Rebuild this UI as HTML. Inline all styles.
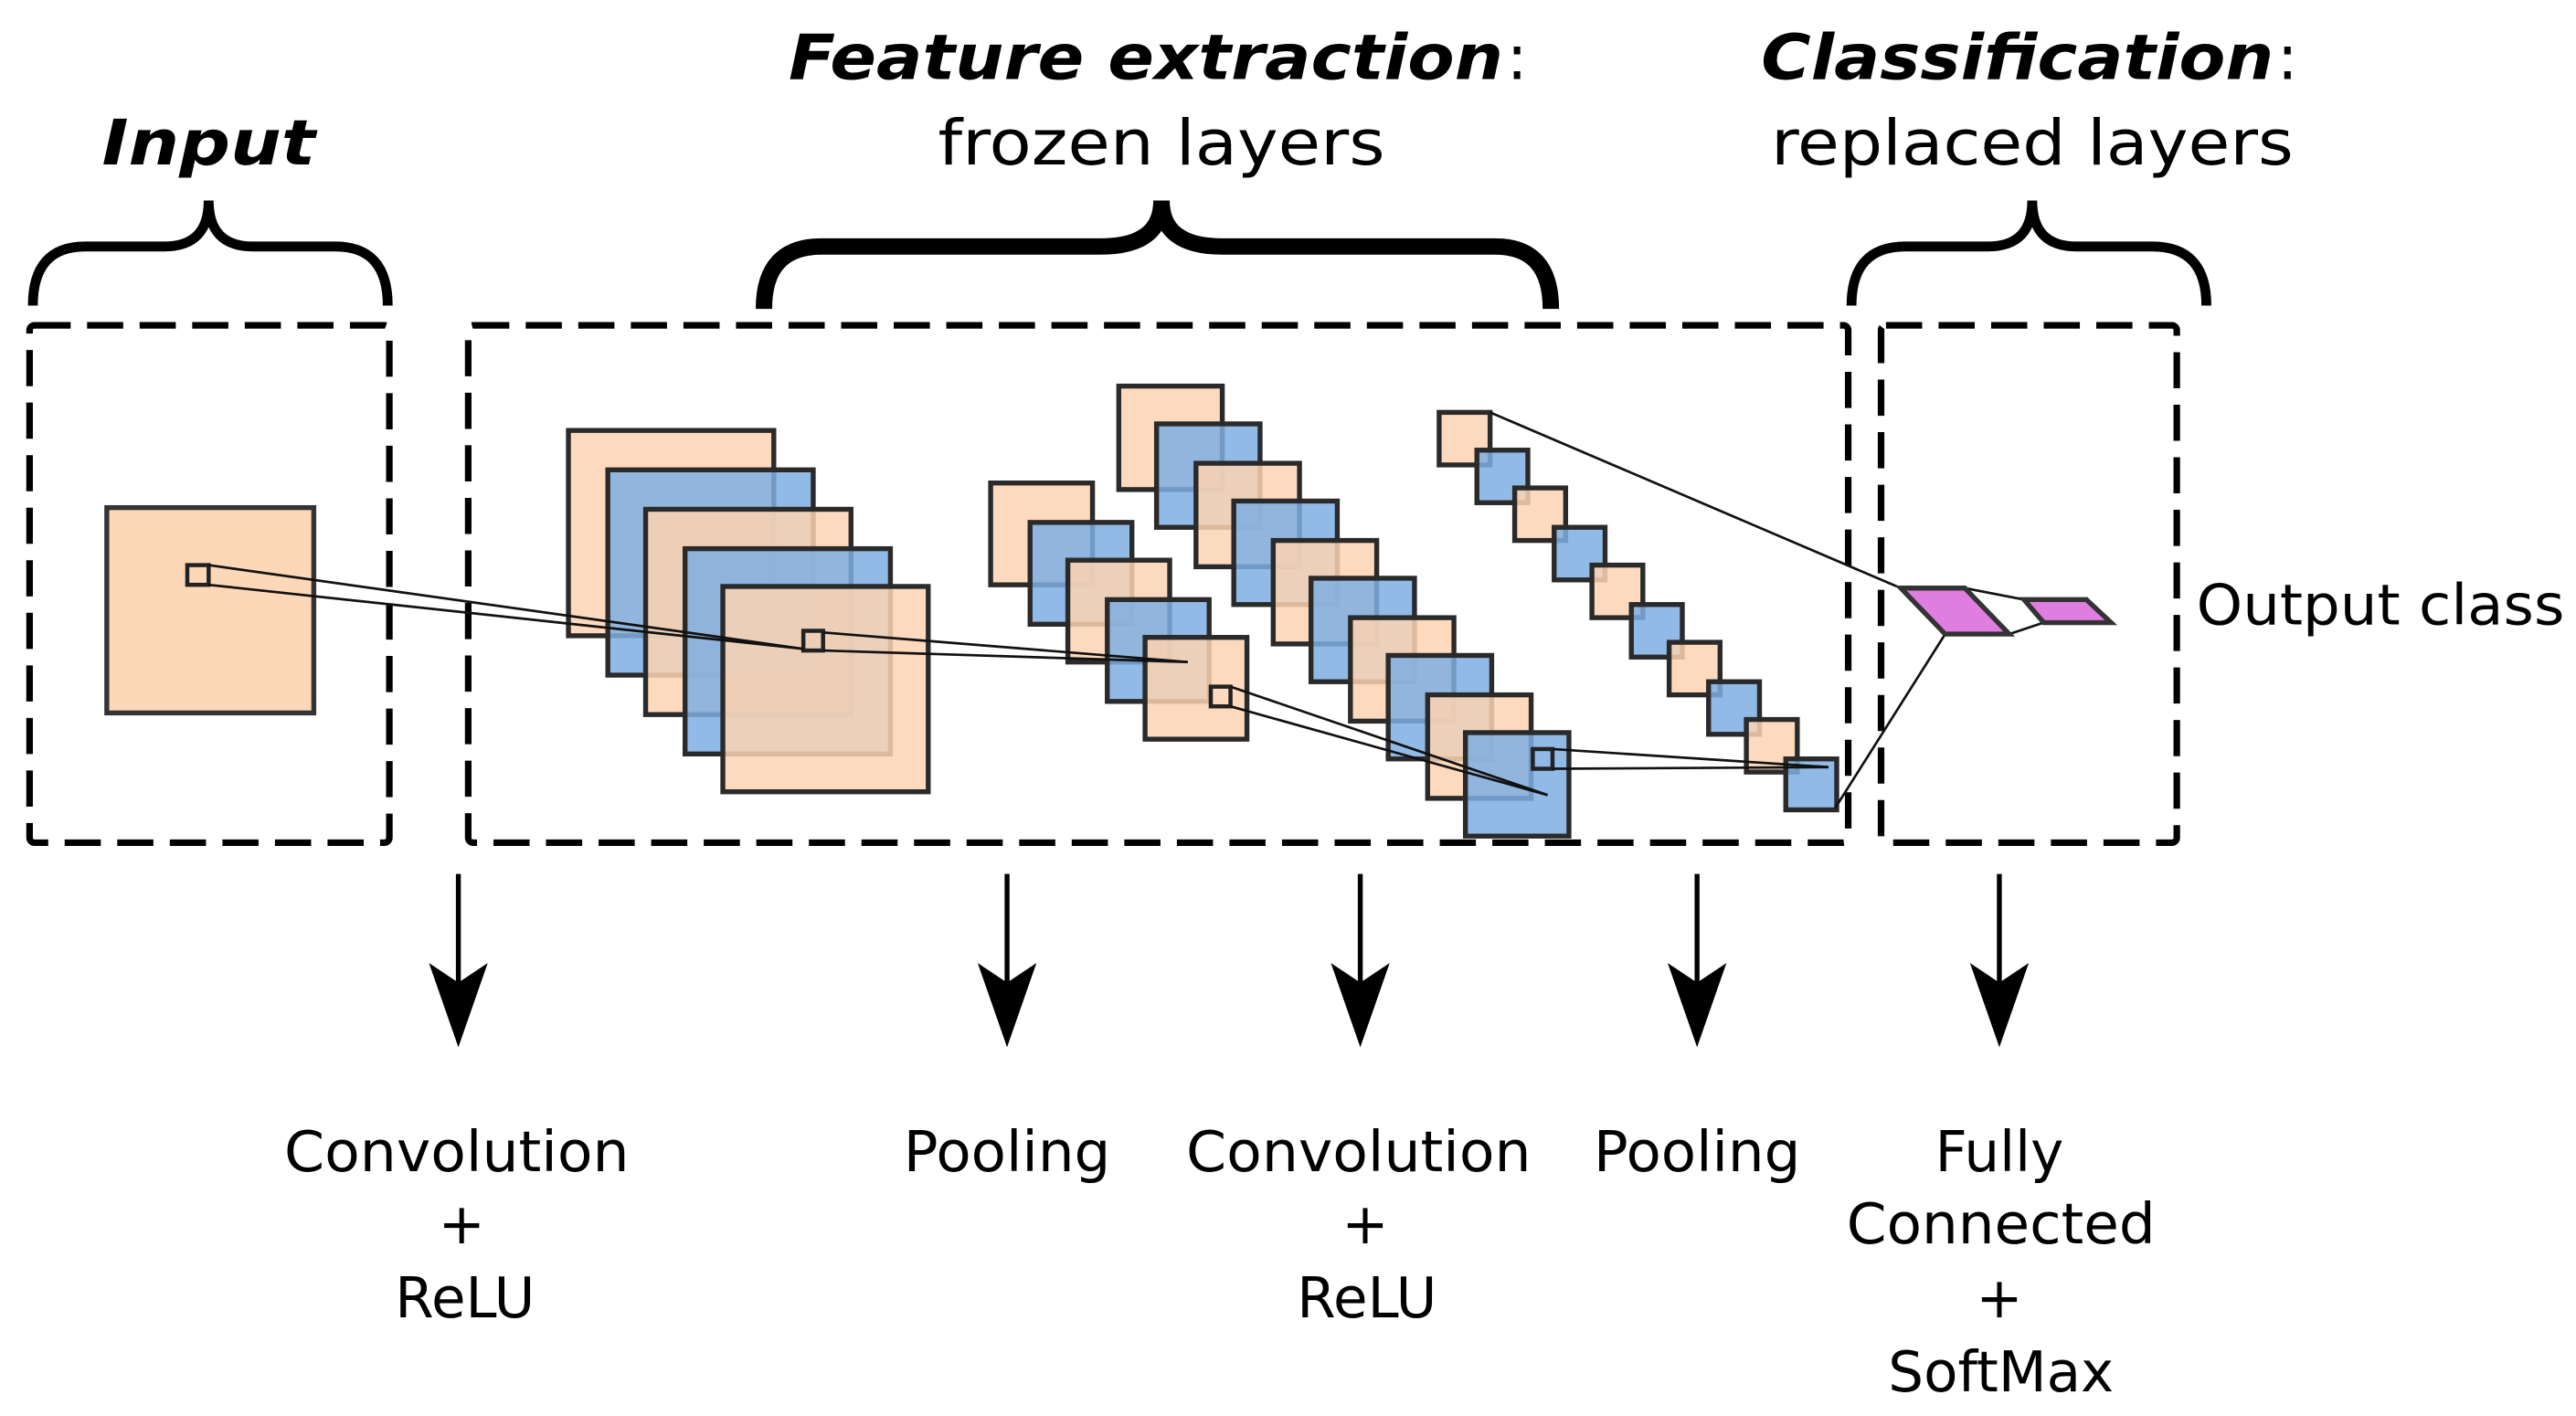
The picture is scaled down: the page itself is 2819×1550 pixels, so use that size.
<!DOCTYPE html>
<html><head><meta charset="utf-8"><style>html,body{margin:0;padding:0;background:#fff}svg{display:block}</style></head>
<body>
<svg width="2819" height="1550" viewBox="0 0 1568 862" xmlns="http://www.w3.org/2000/svg" font-family="DejaVu Sans, Liberation Sans, sans-serif">
<rect width="1568" height="862" fill="#fff"/>
<!-- headers -->
<text x="127" y="100" font-size="38" font-weight="bold" font-style="italic" text-anchor="middle" textLength="130" lengthAdjust="spacingAndGlyphs">Input</text>
<text x="480" y="48" font-size="38" font-weight="bold" font-style="italic" textLength="435" lengthAdjust="spacingAndGlyphs">Feature extraction</text>
<text x="917" y="48" font-size="38">:</text>
<text x="707" y="100" font-size="38" text-anchor="middle" textLength="272" lengthAdjust="spacingAndGlyphs">frozen layers</text>
<text x="1072" y="48" font-size="38" font-weight="bold" font-style="italic" textLength="312" lengthAdjust="spacingAndGlyphs">Classification</text>
<text x="1386" y="48" font-size="38">:</text>
<text x="1237" y="100" font-size="38" text-anchor="middle" textLength="318" lengthAdjust="spacingAndGlyphs">replaced layers</text>
<!-- braces -->
<g fill="none" stroke="#000" stroke-linecap="butt">
<path d="M20,186 Q20,150 52,150 L100,150 Q127,150 127,122 Q127,150 154,150 L204,150 Q236,150 236,186" stroke-width="6"/>
<path d="M465,188 Q465,150 500,150 L670,150 Q707,150 707,122 Q707,150 744,150 L910,150 Q944,150 944,188" stroke-width="10"/>
<path d="M1127,186 Q1127,150 1160,150 L1210,150 Q1237,150 1237,122 Q1237,150 1264,150 L1310,150 Q1343,150 1343,186" stroke-width="6"/>
</g>
<!-- dashed boxes -->
<g fill="none" stroke="#000" stroke-width="4" stroke-dasharray="22 10">
<rect x="18" y="198" width="219" height="315" rx="3"/>
<rect x="285" y="198" width="840" height="315" rx="3"/>
<rect x="1145" y="198" width="180" height="315" rx="3"/>
</g>
<!-- input -->
<rect x="65" y="309" width="126" height="125" fill="#fdd8b8" stroke="#333" stroke-width="3"/>
<g stroke="#2a2a2a" stroke-width="3" fill-opacity="0.85">
<!-- conv1 -->
<rect x="346" y="262" width="125" height="125" fill="#fdd3b2"/>
<rect x="370" y="286" width="125" height="125" fill="#7eaee2"/>
<rect x="393" y="310" width="125" height="125" fill="#fdd3b2"/>
<rect x="417" y="334" width="125" height="125" fill="#7eaee2"/>
<rect x="440" y="357" width="125" height="125" fill="#fdd3b2"/>
<!-- pool1 -->
<rect x="603" y="294" width="62" height="62" fill="#fdd3b2"/>
<rect x="627" y="318" width="62" height="62" fill="#7eaee2"/>
<rect x="650" y="341" width="62" height="62" fill="#fdd3b2"/>
<rect x="674" y="365" width="62" height="62" fill="#7eaee2"/>
<rect x="697" y="388" width="62" height="62" fill="#fdd3b2"/>
<!-- conv2 -->
<rect x="681" y="235" width="63" height="63" fill="#fdd3b2"/>
<rect x="704" y="258" width="63" height="63" fill="#7eaee2"/>
<rect x="728" y="282" width="63" height="63" fill="#fdd3b2"/>
<rect x="751" y="305" width="63" height="63" fill="#7eaee2"/>
<rect x="775" y="329" width="63" height="63" fill="#fdd3b2"/>
<rect x="798" y="352" width="63" height="63" fill="#7eaee2"/>
<rect x="822" y="376" width="63" height="63" fill="#fdd3b2"/>
<rect x="845" y="399" width="63" height="63" fill="#7eaee2"/>
<rect x="869" y="423" width="63" height="63" fill="#fdd3b2"/>
<rect x="892" y="446" width="63" height="63" fill="#7eaee2"/>
<!-- pool2 -->
<rect x="876" y="251" width="31" height="32" fill="#fdd3b2"/>
<rect x="899" y="274" width="31" height="32" fill="#7eaee2"/>
<rect x="922" y="297" width="31" height="32" fill="#fdd3b2"/>
<rect x="946" y="321" width="31" height="32" fill="#7eaee2"/>
<rect x="969" y="344" width="31" height="32" fill="#fdd3b2"/>
<rect x="993" y="368" width="31" height="32" fill="#7eaee2"/>
<rect x="1016" y="391" width="31" height="32" fill="#fdd3b2"/>
<rect x="1040" y="415" width="31" height="32" fill="#7eaee2"/>
<rect x="1063" y="438" width="31" height="32" fill="#fdd3b2"/>
<rect x="1087" y="462" width="31" height="31" fill="#7eaee2"/>
</g>
<!-- small squares -->
<g fill="none" stroke="#222" stroke-width="2.5">
<rect x="114" y="344" width="13" height="12"/>
<rect x="489" y="384" width="12" height="12"/>
<rect x="737" y="418" width="12" height="12"/>
<rect x="933" y="456" width="12" height="12"/>
</g>
<!-- connection lines -->
<g stroke="#111" stroke-width="1.5" fill="none">
<line x1="127" y1="344" x2="489" y2="395"/>
<line x1="127" y1="356" x2="489" y2="395"/>
<line x1="501" y1="385" x2="723" y2="403"/>
<line x1="501" y1="396" x2="723" y2="403"/>
<line x1="749" y1="418" x2="942" y2="484"/>
<line x1="749" y1="430" x2="942" y2="484"/>
<line x1="945" y1="456" x2="1113" y2="467"/>
<line x1="945" y1="468" x2="1113" y2="467"/>
<line x1="907" y1="251" x2="1157" y2="358"/>
<line x1="1117" y1="492" x2="1184" y2="386"/>
<line x1="1196" y1="358" x2="1232" y2="365"/>
<line x1="1223" y1="386" x2="1244" y2="379"/>
</g>
<!-- FC -->
<polygon points="1157,358 1196,358 1223,386 1184,386" fill="#e07de0" stroke="#333" stroke-width="3"/>
<polygon points="1232,365 1270,365 1285,379 1244,379" fill="#e07de0" stroke="#333" stroke-width="3"/>
<text x="1337" y="380" font-size="34" textLength="224" lengthAdjust="spacingAndGlyphs">Output class</text>
<!-- arrows -->
<g stroke="#000" stroke-width="3" fill="#000">
<line x1="279" y1="532" x2="279" y2="610"/><polygon points="264,590 279,633 294,590 279,600"/>
<line x1="613" y1="532" x2="613" y2="610"/><polygon points="598,590 613,633 628,590 613,600"/>
<line x1="828" y1="532" x2="828" y2="610"/><polygon points="813,590 828,633 843,590 828,600"/>
<line x1="1033" y1="532" x2="1033" y2="610"/><polygon points="1018,590 1033,633 1048,590 1033,600"/>
<line x1="1217" y1="532" x2="1217" y2="610"/><polygon points="1202,590 1217,633 1232,590 1217,600"/>
</g>
<!-- labels -->
<g font-size="34" text-anchor="middle" fill="#000">
<text x="278" y="713" textLength="210" lengthAdjust="spacingAndGlyphs">Convolution</text>
<text x="281" y="757">+</text>
<text x="283" y="802">ReLU</text>
<text x="613" y="713" textLength="126" lengthAdjust="spacingAndGlyphs">Pooling</text>
<text x="827" y="713" textLength="210" lengthAdjust="spacingAndGlyphs">Convolution</text>
<text x="831" y="757">+</text>
<text x="832" y="802">ReLU</text>
<text x="1033" y="713" textLength="126" lengthAdjust="spacingAndGlyphs">Pooling</text>
<text x="1217" y="713">Fully</text>
<text x="1218" y="757" textLength="188" lengthAdjust="spacingAndGlyphs">Connected</text>
<text x="1217" y="802">+</text>
<text x="1218" y="847">SoftMax</text>
</g>
</svg>
</body></html>
